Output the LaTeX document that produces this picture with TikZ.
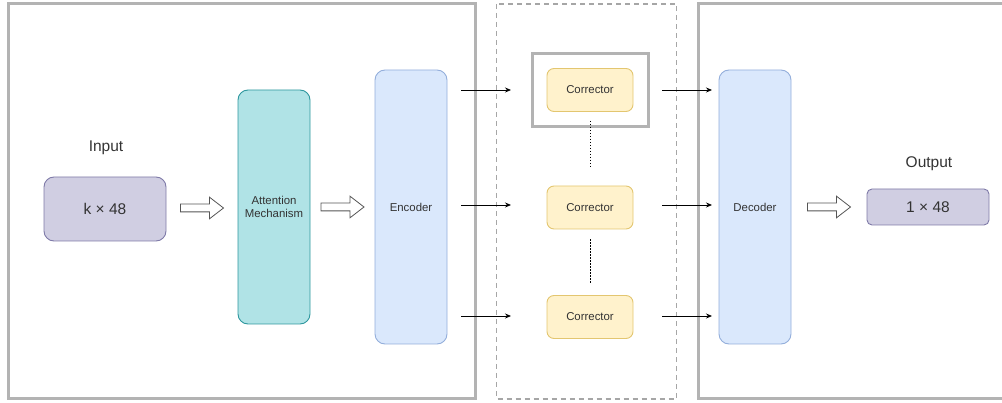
\documentclass[tikz,border=0pt]{standalone}
\usepackage{fontspec}
\setmainfont{Liberation Sans}
\usetikzlibrary{calc,arrows.meta}

\definecolor{panelgray}{HTML}{B3B3B3}
\definecolor{dashgray}{HTML}{A6A6A6}
\definecolor{txt}{HTML}{333333}
\definecolor{purplefill}{HTML}{D0CEE2}
\definecolor{purpleline}{HTML}{7F7AA8}
\definecolor{tealfill}{HTML}{B0E3E6}
\definecolor{tealline}{HTML}{2E979E}
\definecolor{bluefill}{HTML}{DAE8FC}
\definecolor{blueline}{HTML}{93AEDB}
\definecolor{yellowfill}{HTML}{FFF2CC}
\definecolor{yellowline}{HTML}{E3C670}
\definecolor{arrowline}{HTML}{555555}

\tikzset{
  panel/.style={draw=panelgray, line width=3pt},
  groupbox/.style={draw=dashgray, line width=1.5pt, dash pattern=on 5pt off 4pt},
  highlight/.style={draw=panelgray, line width=3pt},
  block/.style={rectangle, rounded corners=10pt, line width=0.9pt, inner sep=0pt,
    text=txt, font=\fontsize{11.4}{13.3}\selectfont, align=center},
  dimbox/.style={block, draw=purpleline, fill=purplefill, font=\fontsize{15.5}{18}\selectfont},
  attnbox/.style={block, draw=tealline, fill=tealfill, minimum width=72pt, minimum height=234pt},
  codebox/.style={block, draw=blueline, fill=bluefill, minimum width=72pt, minimum height=274pt},
  corrbox/.style={block, rounded corners=7pt, draw=yellowline, fill=yellowfill,
    minimum width=86pt, minimum height=43pt},
  caption/.style={text=txt, font=\fontsize{15.5}{18}\selectfont, inner sep=0pt},
  feed/.style={draw=black, line width=0.8pt, -{Stealth[length=6pt,width=5pt]}},
  dotted link/.style={draw=black, line width=0.7pt, dash pattern=on 1.5pt off 1.5pt},
  blockarrow/.style={draw=arrowline, fill=white, line width=0.8pt, line join=miter},
}

% hollow block arrow centred between two nodes
\newcommand\hollowarrow[2]{%
  \draw[blockarrow] ($(#1.east)!0.5!(#2.west)$) ++(-21.5,-3.9) -- ++(29,0) -- ++(0,-6.9)
    -- ++(14,10.8) -- ++(-14,10.8) -- ++(0,-6.9) -- ++(-29,0) -- cycle;}

\begin{document}
\begin{tikzpicture}[x=1pt,y=-1pt]
\useasboundingbox (0,0) rectangle (1002,403);
\clip (0,0) rectangle (1002,403);

% frames
\draw[panel] (8,4) rectangle (475.5,399);
\draw[groupbox] (496.5,4) rectangle (676.5,399);
\draw[panel] (698,4) rectangle (1020,399);
\draw[highlight] (532,53.5) rectangle (648,126.5);

% encoder side
\node[caption] (inlabel) at (106,148) {Input};
\node[dimbox, minimum width=122pt, minimum height=64pt] (input) at (105,209) {k × 48};
\node[attnbox] (attn) at (274,207) {Attention\\Mechanism};
\node[codebox] (enc) at (411,207) {Encoder};

% correctors
\node[corrbox] (c1) at (590,90) {Corrector};
\node[corrbox] (c2) at (590,207.5) {Corrector};
\node[corrbox] (c3) at (590,317) {Corrector};

% decoder side
\node[codebox] (dec) at (755,207) {Decoder};
\node[caption] (outlabel) at (929,164) {Output};
\node[dimbox, rounded corners=5pt, minimum width=122pt, minimum height=36pt] (output) at (928,207) {1 × 48};

% block arrows
\hollowarrow{input}{attn}
\hollowarrow{attn}{enc}
\hollowarrow{dec}{output}

% encoder to correctors
\coordinate (e1) at (461,90);
\coordinate (e2) at (461,205);
\coordinate (e3) at (461,316);
\coordinate (ci1) at (511,90);
\coordinate (ci2) at (511,205);
\coordinate (ci3) at (511,316);
\draw[feed] (e1) -- (ci1);
\draw[feed] (e2) -- (ci2);
\draw[feed] (e3) -- (ci3);

% correctors to decoder
\coordinate (co1) at (662,90);
\coordinate (co2) at (662,205);
\coordinate (co3) at (662,316);
\coordinate (d1) at (712,90);
\coordinate (d2) at (712,205);
\coordinate (d3) at (712,316);
\draw[feed] (co1) -- (d1);
\draw[feed] (co2) -- (d2);
\draw[feed] (co3) -- (d3);

% ellipsis between correctors
\draw[dotted link] ($(c1.south)+(0,9)$) -- ($(c2.north)+(0,-17)$);
\draw[dotted link] ($(c2.south)+(0,10)$) -- ($(c3.north)+(0,-11)$);
\end{tikzpicture}
\end{document}
